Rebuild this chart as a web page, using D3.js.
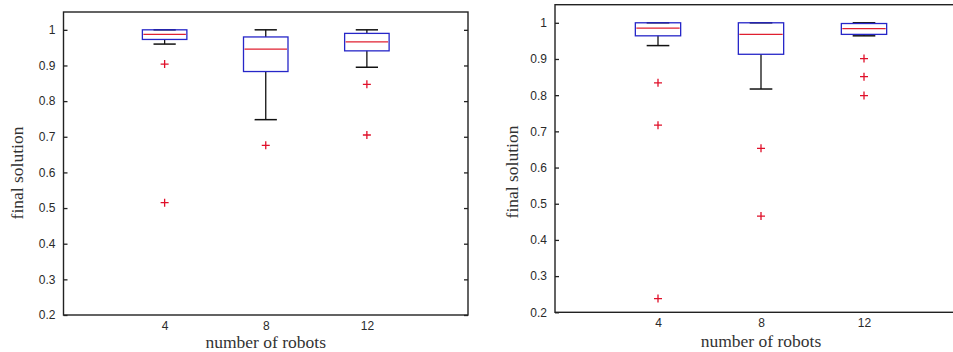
<!DOCTYPE html>
<html>
<head>
<meta charset="utf-8">
<script src="https://cdn.jsdelivr.net/npm/d3@7/dist/d3.min.js"></script>
<style>
  html, body { margin: 0; padding: 0; background: #fff; }
  svg { display: block; }
</style>
</head>
<body>
<svg id="chart" width="953" height="352"></svg>
<script>
// ---- data ----
const categories = ["4", "8", "12"];
const yTickValues = [0.2, 0.3, 0.4, 0.5, 0.6, 0.7, 0.8, 0.9, 1.0];
const yTickLabels = ["0.2", "0.3", "0.4", "0.5", "0.6", "0.7", "0.8", "0.9", "1"];
const xLabel = "number of robots";
const yLabel = "final solution";

// left panel
const leftWhiskerLow  = [0.960, 0.748, 0.895];
const leftQ1          = [0.973, 0.883, 0.941];
const leftMedian      = [0.987, 0.946, 0.966];
const leftQ3          = [1.000, 0.980, 0.990];
const leftWhiskerHigh = [1.000, 1.000, 1.000];
const leftOutliers    = [[0.904, 0.515], [0.676], [0.847, 0.705]];

// right panel
const rightWhiskerLow  = [0.937, 0.817, 0.964];
const rightQ1          = [0.964, 0.913, 0.968];
const rightMedian      = [0.985, 0.968, 0.984];
const rightQ3          = [1.000, 1.000, 0.998];
const rightWhiskerHigh = [1.000, 1.000, 1.000];
const rightOutliers    = [[0.834, 0.717, 0.238], [0.653, 0.466], [0.901, 0.851, 0.799]];

// ---- drawing ----
const svg = d3.select("#chart");

function drawPanel(p) {
  const g = svg.append("g");
  const x = d3.scaleLinear().domain([0, categories.length + 1]).range([p.left, p.right]);
  const y = d3.scaleLinear().domain([0.2, 1.05]).range([p.bottom, p.top]);
  const boxW = x(0.44) - x(0);
  const capW = x(0.22) - x(0);

  // frame
  g.append("rect")
    .attr("x", p.left).attr("y", p.top)
    .attr("width", p.right - p.left).attr("height", p.bottom - p.top)
    .attr("fill", "none").attr("stroke", "#222").attr("stroke-width", 1.4);

  // y axis (ticks inward)
  const yAxis = d3.axisLeft(y).tickValues(yTickValues)
    .tickFormat((d, i) => yTickLabels[i]).tickSizeInner(-4).tickSizeOuter(0).tickPadding(8);
  const ya = g.append("g").attr("transform", `translate(${p.left},0)`).call(yAxis);
  ya.select(".domain").remove();
  ya.selectAll("line").attr("stroke", "#222").attr("stroke-width", 1.3);
  ya.selectAll("text").attr("font-family", "Arial, 'Liberation Sans', sans-serif")
    .attr("font-size", 12).attr("fill", "#2a2a2a");

  // right-side inward ticks
  const yAxisR = d3.axisRight(y).tickValues(yTickValues).tickFormat("").tickSizeInner(-4).tickSizeOuter(0);
  const yr = g.append("g").attr("transform", `translate(${p.right},0)`).call(yAxisR);
  yr.select(".domain").remove();
  yr.selectAll("line").attr("stroke", "#222").attr("stroke-width", 1.3);

  // x axis labels (no tick marks)
  const xAxis = d3.axisBottom(x).tickValues(categories.map((c, i) => i + 1))
    .tickFormat((d, i) => categories[i]).tickSize(0).tickPadding(p.xTickPad);
  const xa = g.append("g").attr("transform", `translate(0,${p.bottom})`).call(xAxis);
  xa.select(".domain").remove();
  xa.selectAll("text").attr("font-family", "Arial, 'Liberation Sans', sans-serif")
    .attr("font-size", 12).attr("fill", "#2a2a2a");

  // axis titles
  g.append("text")
    .attr("x", x(2)).attr("y", p.xTitleY)
    .attr("text-anchor", "middle")
    .attr("font-family", "'Liberation Serif', 'Times New Roman', serif")
    .attr("font-size", 17.5).attr("fill", "#333").text(xLabel);
  g.append("text")
    .attr("transform", `translate(${p.yTitleX},${p.yTitleY}) rotate(-90)`)
    .attr("text-anchor", "middle")
    .attr("font-family", "'Liberation Serif', 'Times New Roman', serif")
    .attr("font-size", 17.5).attr("fill", "#333").text(yLabel);

  const idx = d3.range(categories.length);
  const cx = i => x(i + 1);

  // whiskers
  idx.forEach(i => {
    g.append("line").attr("x1", cx(i)).attr("x2", cx(i))
      .attr("y1", y(p.q1[i])).attr("y2", y(p.wLow[i]))
      .attr("stroke", "#111").attr("stroke-width", 1.3);
    g.append("line").attr("x1", cx(i)).attr("x2", cx(i))
      .attr("y1", y(p.q3[i])).attr("y2", y(p.wHigh[i]))
      .attr("stroke", "#111").attr("stroke-width", 1.3);
    g.append("line").attr("x1", cx(i) - capW / 2).attr("x2", cx(i) + capW / 2)
      .attr("y1", y(p.wLow[i])).attr("y2", y(p.wLow[i]))
      .attr("stroke", "#111").attr("stroke-width", 1.5);
    g.append("line").attr("x1", cx(i) - capW / 2).attr("x2", cx(i) + capW / 2)
      .attr("y1", y(p.wHigh[i])).attr("y2", y(p.wHigh[i]))
      .attr("stroke", "#111").attr("stroke-width", 1.5);
  });

  // boxes
  g.selectAll(".box").data(idx).join("rect")
    .attr("x", i => cx(i) - boxW / 2)
    .attr("y", i => y(p.q3[i]))
    .attr("width", boxW)
    .attr("height", i => y(p.q1[i]) - y(p.q3[i]))
    .attr("fill", "none").attr("stroke", "#2626c8").attr("stroke-width", 1.3);

  // medians
  g.selectAll(".med").data(idx).join("line")
    .attr("x1", i => cx(i) - boxW / 2 + 1).attr("x2", i => cx(i) + boxW / 2 - 1)
    .attr("y1", i => y(p.median[i])).attr("y2", i => y(p.median[i]))
    .attr("stroke", "#e02030").attr("stroke-width", 1.3);

  // outliers
  const pts = [];
  idx.forEach(i => p.outliers[i].forEach(v => pts.push({ i, v })));
  const s = 4;
  pts.forEach(d => {
    const px = cx(d.i), py = y(d.v);
    g.append("path")
      .attr("d", `M${px - s},${py}H${px + s}M${px},${py - s}V${py + s}`)
      .attr("stroke", "#e0102a").attr("stroke-width", 1.3).attr("fill", "none");
  });
}

drawPanel({
  left: 63.5, right: 468, top: 12, bottom: 315,
  xTickPad: 6, xTitleY: 348, yTitleX: 23, yTitleY: 173,
  wLow: leftWhiskerLow, q1: leftQ1, median: leftMedian, q3: leftQ3, wHigh: leftWhiskerHigh,
  outliers: leftOutliers
});

drawPanel({
  left: 555, right: 967, top: 4.7, bottom: 312.3,
  xTickPad: 6, xTitleY: 347, yTitleX: 518, yTitleY: 172,
  wLow: rightWhiskerLow, q1: rightQ1, median: rightMedian, q3: rightQ3, wHigh: rightWhiskerHigh,
  outliers: rightOutliers
});
</script>
</body>
</html>
